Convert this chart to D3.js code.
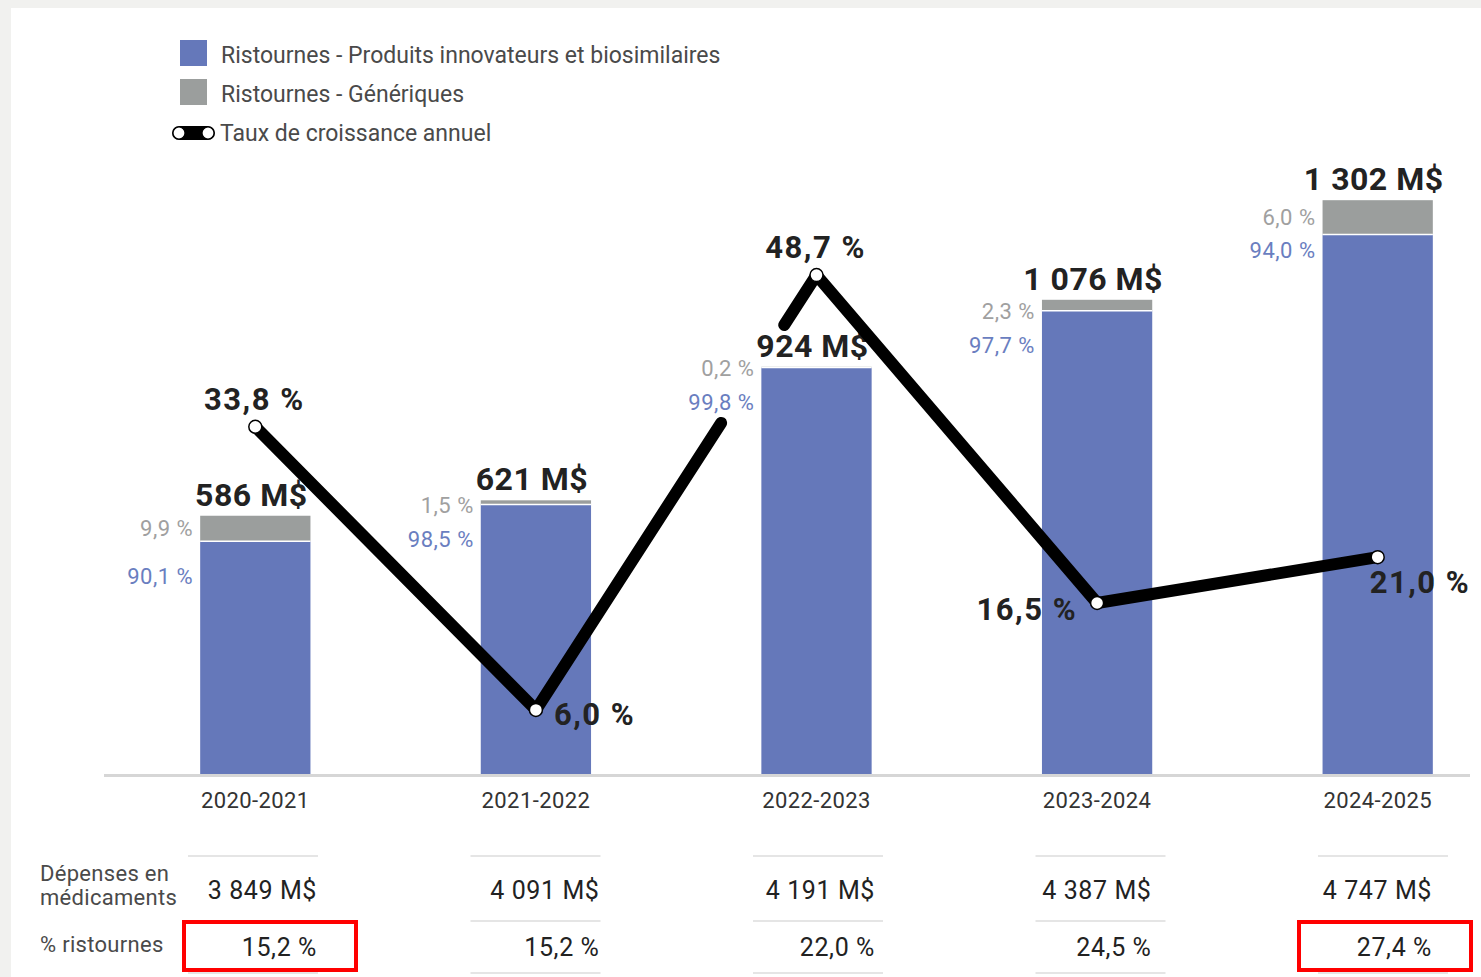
<!DOCTYPE html>
<html lang="fr">
<head>
<meta charset="UTF-8">
<title>Ristournes</title>
<script src="https://cdn.jsdelivr.net/npm/d3@7"></script>
<style>
  body { margin: 0; background: #f1f1ef; }
  svg { display: block; font-family: Roboto, "Noto Sans", sans-serif; }
  .total { font-size: 32px; font-weight: 700; fill: #222; text-anchor: middle; letter-spacing: 0.5px; }
  .growth { font-size: 31px; font-weight: 700; fill: #222; letter-spacing: 1.5px; }
  .share { font-size: 22px; text-anchor: end; dominant-baseline: central; letter-spacing: 0.5px; }
  .tick { font-size: 22px; fill: #333; text-anchor: middle; letter-spacing: 0.4px; }
  .legend { font-size: 23px; fill: #4a4a4a; dominant-baseline: central; }
  .rowlab { font-size: 22px; fill: #4a4a4a; letter-spacing: 0.3px; }
  .cell { font-size: 25px; fill: #222; text-anchor: end; dominant-baseline: central; letter-spacing: 0.6px; }
</style>
</head>
<body>
<div id="chart"></div>
<script>
// data
const years = ["2020-2021", "2021-2022", "2022-2023", "2023-2024", "2024-2025"];
const totals = [586, 621, 924, 1076, 1302];           // M$
const shareInnov = [90.1, 98.5, 99.8, 97.7, 94.0];     // %
const shareGen = [9.9, 1.5, 0.2, 2.3, 6.0];            // %
const growth = [33.8, 6.0, 48.7, 16.5, 21.0];          // %
const spending = [3849, 4091, 4191, 4387, 4747];       // M$
const rebatePct = [15.2, 15.2, 22.0, 24.5, 27.4];      // %
const highlighted = [0, 4];

// where each growth label sits relative to its point
const growthLabelPos = ["above", "right", "above", "left", "below"];

const W = 1481, H = 977;
const blue = "#6578ba", grey = "#9b9e9d";
const fr = v => v.toFixed(1).replace(".", ",") + " %";
const money = v => d3.format(",")(v).replace(/,/g, " ") + " M$";

const svg = d3.select("#chart").append("svg").attr("width", W).attr("height", H);

// white panel
svg.append("rect").attr("x", 11).attr("y", 8).attr("width", W - 11).attr("height", H)
  .attr("fill", "#fff");

const x = d3.scaleBand().domain(years).range([116, 1517]).paddingInner(0.607).paddingOuter(0.3);
const y = d3.scaleLinear().domain([0, 1400]).range([774, 157]);
const y2 = d3.scaleLinear().domain([0, 60]).range([771, 160]);
const cx = d => x(d) + x.bandwidth() / 2;

// bars
const bars = years.map((yr, i) => {
  const innov = totals[i] * shareInnov[i] / 100;
  return { yr, i, innov, total: totals[i] };
});

const g = svg.append("g");
g.selectAll(".innov").data(bars).join("rect")
  .attr("x", d => x(d.yr)).attr("width", x.bandwidth())
  .attr("y", d => y(d.innov)).attr("height", d => y(0) - y(d.innov))
  .attr("fill", blue);
g.selectAll(".gen").data(bars).join("rect")
  .attr("x", d => x(d.yr)).attr("width", x.bandwidth())
  .attr("y", d => y(d.total)).attr("height", d => y(d.innov) - y(d.total))
  .attr("fill", grey);
// white separator between segments
g.selectAll(".sep").data(bars).join("line")
  .attr("x1", d => x(d.yr)).attr("x2", d => x(d.yr) + x.bandwidth())
  .attr("y1", d => y(d.innov)).attr("y2", d => y(d.innov))
  .attr("stroke", "#fff").attr("stroke-width", 1.5);

// baseline
svg.append("line").attr("x1", 104).attr("x2", 1470).attr("y1", 775.5).attr("y2", 775.5)
  .attr("stroke", "#d6d6d6").attr("stroke-width", 3);

// x axis labels
svg.selectAll(".tick").data(years).join("text").attr("class", "tick")
  .attr("x", cx).attr("y", 808).text(d => d);

// share labels to the left of each bar
bars.forEach(d => {
  const genTop = y(d.total), genBot = y(d.innov);
  const segH = genBot - genTop;
  const greyY = segH < 15 ? genBot + 1 : (genTop + genBot) / 2;
  const blueY = segH > 30 ? genBot + 16 : genBot + 35;
  const lx = x(d.yr) - 7;
  g.append("text").attr("class", "share").attr("x", lx).attr("y", greyY)
    .attr("fill", "#a0a0a0").text(fr(shareGen[d.i]));
  g.append("text").attr("class", "share").attr("x", lx).attr("y", blueY)
    .attr("fill", "#6a7ec0").text(fr(shareInnov[d.i]));
});

// growth line (gap where it crosses the 2022-2023 labels)
const pts = years.map((yr, i) => [cx(yr), y2(growth[i])]);
const gap = { seg: 1, t0: 0.66, t1: 0.885 };
const lerp = (a, b, t) => [a[0] + (b[0] - a[0]) * t, a[1] + (b[1] - a[1]) * t];
const a = pts[gap.seg], b = pts[gap.seg + 1];
const pieces = [
  pts.slice(0, gap.seg + 1).concat([lerp(a, b, gap.t0)]),
  [lerp(a, b, gap.t1)].concat(pts.slice(gap.seg + 1))
];
const line = d3.line();
svg.selectAll(".gline").data(pieces).join("path")
  .attr("d", line).attr("fill", "none").attr("stroke", "#000")
  .attr("stroke-width", 12).attr("stroke-linecap", "round").attr("stroke-linejoin", "round");
svg.selectAll(".gdot").data(pts).join("circle")
  .attr("cx", d => d[0]).attr("cy", d => d[1]).attr("r", 6.5)
  .attr("fill", "#fff").attr("stroke", "#000").attr("stroke-width", 1.5);

// total labels
g.selectAll(".total").data(bars).join("text").attr("class", "total")
  .attr("x", d => cx(d.yr) - 4).attr("y", d => y(d.total) - 10).text(d => money(d.total));

// growth labels
pts.forEach((p, i) => {
  const pos = growthLabelPos[i];
  const t = svg.append("text").attr("class", "growth").text(fr(growth[i]));
  if (pos === "above") t.attr("x", p[0] - 1).attr("y", p[1] - 17).attr("text-anchor", "middle");
  if (pos === "right") t.attr("x", p[0] + 18).attr("y", p[1] + 15).attr("text-anchor", "start");
  if (pos === "left") t.attr("x", p[0] - 20).attr("y", p[1] + 17).attr("text-anchor", "end");
  if (pos === "below") t.attr("x", p[0] - 8).attr("y", p[1] + 36).attr("text-anchor", "start");
});

// legend
const leg = svg.append("g");
leg.append("rect").attr("x", 180).attr("y", 40).attr("width", 27).attr("height", 26).attr("fill", blue);
leg.append("text").attr("class", "legend").attr("x", 221).attr("y", 55)
  .text("Ristournes - Produits innovateurs et biosimilaires");
leg.append("rect").attr("x", 180).attr("y", 79).attr("width", 27).attr("height", 26).attr("fill", grey);
leg.append("text").attr("class", "legend").attr("x", 221).attr("y", 94).text("Ristournes - Génériques");
leg.append("line").attr("x1", 179).attr("x2", 208).attr("y1", 133).attr("y2", 133)
  .attr("stroke", "#000").attr("stroke-width", 14).attr("stroke-linecap", "round");
leg.selectAll(".ld").data([179, 208]).join("circle")
  .attr("cx", d => d).attr("cy", 133).attr("r", 6).attr("fill", "#fff").attr("stroke", "#000").attr("stroke-width", 1.2);
leg.append("text").attr("class", "legend").attr("x", 220).attr("y", 133).text("Taux de croissance annuel");

// table below the chart
const col = d3.scalePoint().domain(years).range([253, 1383]);
const tbl = svg.append("g");
tbl.selectAll(".rl").data([856, 921, 973]).join("g").each(function(yy) {
  d3.select(this).selectAll("line").data(years).join("line")
    .attr("x1", d => col(d) - 65).attr("x2", d => col(d) + 65)
    .attr("y1", yy).attr("y2", yy).attr("stroke", "#dcdcdc").attr("stroke-width", 1.5);
});
tbl.append("text").attr("class", "rowlab").attr("x", 40).attr("y", 881).text("Dépenses en");
tbl.append("text").attr("class", "rowlab").attr("x", 40).attr("y", 905).text("médicaments");
tbl.append("text").attr("class", "rowlab").attr("x", 40).attr("y", 952).text("% ristournes");
const endX = (d, i) => col(d) + [64, 64, 57, 51, 49][i];
tbl.selectAll(".c1").data(years).join("text").attr("class", "cell")
  .attr("x", endX).attr("y", 890).text((d, i) => money(spending[i]));
tbl.selectAll(".c2").data(years).join("text").attr("class", "cell")
  .attr("x", endX).attr("y", 947).text((d, i) => fr(rebatePct[i]));
tbl.selectAll(".hl").data(highlighted).join("rect")
  .attr("x", i => endX(years[i], i) - 133).attr("y", 922)
  .attr("width", 172).attr("height", 48)
  .attr("fill", "none").attr("stroke", "#f00").attr("stroke-width", 4);
</script>
</body>
</html>
